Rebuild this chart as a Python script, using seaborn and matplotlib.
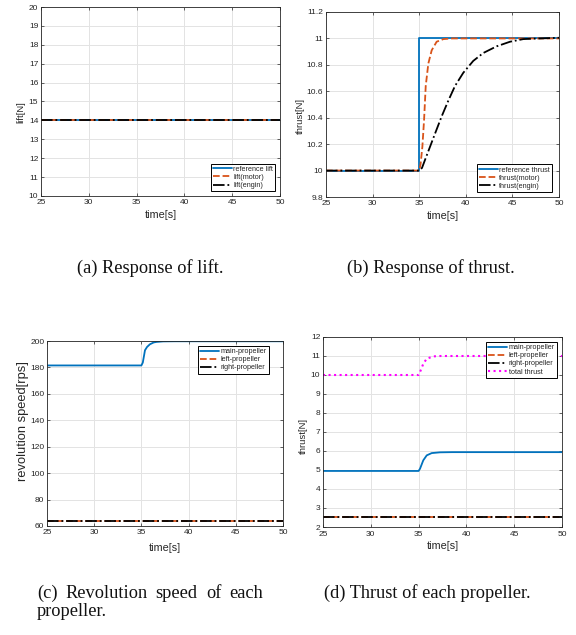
import numpy as np
import pandas as pd
import matplotlib
matplotlib.use("Agg")
import matplotlib.pyplot as plt
import seaborn as sns

# ---------------- data ----------------
# (a) lift
lift_t = [25, 50]
lift_ref = [14, 14]
lift_motor = [14, 14]
lift_engin = [14, 14]

# (b) thrust
thr_ref_t = [25, 35, 35, 50]
thr_ref = [10, 10, 11, 11]
thr_motor_t = [25, 35, 35.15, 35.34, 35.52, 35.7, 35.98, 36.34, 36.87, 37.6, 38.5, 50]
thr_motor = [10, 10, 10.05, 10.18, 10.38, 10.64, 10.81, 10.91, 10.975, 10.995, 11, 11]
thr_engin_t = [25, 35, 35.3, 35.62, 36.16, 36.7, 37.41, 38.13, 38.84, 39.73, 40.8,
               41.88, 43.3, 44.74, 46.17, 48, 50]
thr_engin = [10, 10, 10.02, 10.08, 10.18, 10.28, 10.41, 10.53, 10.64, 10.74, 10.83,
             10.89, 10.94, 10.975, 10.995, 11.0, 11.005]

# (c) revolution speed
rev_t = [25, 35, 35.15, 35.38, 35.6, 35.9, 36.3, 36.6, 37.3, 38.5, 50]
rev_main = [181.5, 181.5, 183.7, 193, 195.5, 197.5, 198.9, 199.3, 199.7, 199.8, 199.8]
rev_side_t = [25, 50]
rev_left = [64, 64]
rev_right = [64, 64]

# (d) thrust of each propeller
pt_t = [25, 35, 35.15, 35.49, 35.85, 36.37, 37.24, 38.5, 50]
pt_main = [4.95, 4.95, 5.07, 5.51, 5.77, 5.89, 5.93, 5.94, 5.94]
pt_side_t = [25, 50]
pt_left = [2.53, 2.53]
pt_right = [2.53, 2.53]
tot_t = [25, 35, 35.15, 35.5, 35.85, 36.55, 37.3, 38.5, 50]
tot_thrust = [10, 10, 10.16, 10.6, 10.86, 10.98, 11.0, 11.0, 11.0]

captions_ab = ["(a) Response of lift.", "(b) Response of thrust."]
caption_c_words = ["(c)", "Revolution", "speed", "of", "each"]
caption_c_line2 = "propeller."
caption_d = "(d) Thrust of each propeller."

# ---------------- style ----------------
sns.set_theme(style="ticks")
plt.rcParams["font.family"] = ["Liberation Sans", "DejaVu Sans"]

BLUE = "#0072BD"
ORANGE = "#D95319"
BLACK = "#000000"
MAGENTA = "#FF00FF"
AXC = "#262626"

W, H = 576, 635
fig = plt.figure(figsize=(W / 100, H / 100), dpi=100)


def px_axes(l, t, r, b):
    return fig.add_axes([l / W, 1 - b / H, (r - l) / W, (b - t) / H])


def style(ax, xlim, ylim, yticks, yticklabels=None):
    ax.set_xlim(*xlim)
    ax.set_ylim(*ylim)
    ax.set_xticks([25, 30, 35, 40, 45, 50])
    ax.set_yticks(yticks)
    if yticklabels is not None:
        ax.set_yticklabels(yticklabels)
    ax.grid(True, color="#e3e3e3", linewidth=0.7)
    ax.set_axisbelow(True)
    for s in ax.spines.values():
        s.set_visible(True)
        s.set_linewidth(0.6)
        s.set_color(AXC)
    ax.tick_params(direction="in", length=2.5, width=0.5, labelsize=6,
                   colors=AXC, pad=2, top=True, right=True)
    ax.set_facecolor("white")


def line(ax, x, y, color, ls, lw, label):
    df = pd.DataFrame({"x": x, "y": y})
    sns.lineplot(data=df, x="x", y="y", ax=ax, color=color, linestyle=ls,
                 linewidth=lw, estimator=None, sort=False, label=label)


def legend(ax, loc, anchor):
    lg = ax.legend(loc=loc, bbox_to_anchor=anchor, borderaxespad=0, fontsize=5.2,
                   frameon=True, fancybox=False, framealpha=1, edgecolor="black",
                   handlelength=2.6, handletextpad=0.2, labelspacing=0.15,
                   borderpad=0.3)
    lg.get_frame().set_linewidth(0.7)


def labels(ax, ylab, ysize, ycoords, xtop):
    ax.set_xlabel("time[s]", fontsize=7.8, color=AXC)
    ax.set_ylabel(ylab, fontsize=ysize, color=AXC)
    ax.xaxis.set_label_coords(0.5, xtop)
    ax.yaxis.set_label_coords(*ycoords)


# (a)
axa = px_axes(41, 7, 280, 196)
line(axa, lift_t, lift_ref, BLUE, "-", 1.3, "reference lift")
line(axa, lift_t, lift_motor, ORANGE, "--", 1.3, "lift(motor)")
line(axa, lift_t, lift_engin, BLACK, "-.", 1.3, "lift(engin)")
style(axa, (25, 50), (10, 20), range(10, 21))
labels(axa, "lift[N]", 6.8, (-0.067, 0.444), -0.074)
legend(axa, "lower right", (0.98, 0.025))

# (b)
axb = px_axes(326, 12, 559, 197)
line(axb, thr_ref_t, thr_ref, BLUE, "-", 1.3, "reference thrust")
line(axb, thr_motor_t, thr_motor, ORANGE, "--", 1.3, "thrust(motor)")
line(axb, thr_engin_t, thr_engin, BLACK, "-.", 1.3, "thrust(engin)")
byt = [9.8, 10, 10.2, 10.4, 10.6, 10.8, 11, 11.2]
style(axb, (25, 50), (9.8, 11.2), byt, ["9.8", "10", "10.2", "10.4", "10.6", "10.8", "11", "11.2"])
labels(axb, "thrust[N]", 6.8, (-0.09, 0.438), -0.076)
legend(axb, "lower right", (0.97, 0.027))

# (c)
axc = px_axes(47, 341, 283, 526)
line(axc, rev_t, rev_main, BLUE, "-", 1.3, "main-propeller")
line(axc, rev_side_t, rev_left, ORANGE, "--", 1.3, "left-propeller")
line(axc, rev_side_t, rev_right, BLACK, "-.", 1.3, "right-propeller")
style(axc, (25, 50), (60, 200), range(60, 201, 20))
labels(axc, "revolution speed[rps]", 9.3, (-0.076, 0.567), -0.09)
legend(axc, "upper right", (0.94, 0.973))

# (d)
axd = px_axes(323, 337, 562, 527)
line(axd, pt_t, pt_main, BLUE, "-", 1.3, "main-propeller")
line(axd, pt_side_t, pt_left, ORANGE, "--", 1.3, "left-propeller")
line(axd, pt_side_t, pt_right, BLACK, "-.", 1.3, "right-propeller")
line(axd, tot_t, tot_thrust, MAGENTA, ":", 1.5, "total thrust")
style(axd, (25, 50), (2, 12), range(2, 13))
labels(axd, "thrust[N]", 6.8, (-0.063, 0.48), -0.074)
legend(axd, "upper right", (0.979, 0.974))
axd.tick_params(axis="x", pad=3)

# captions
serif = ["Liberation Serif", "DejaVu Serif"]
CFS = 13.2
CCOL = "#111111"
fig.text(150 / W, 1 - 273 / H, captions_ab[0], ha="center", va="baseline",
         fontsize=CFS, family=serif, color=CCOL)
fig.text(431 / W, 1 - 273 / H, captions_ab[1], ha="center", va="baseline",
         fontsize=CFS, family=serif, color=CCOL)

# justified first line of caption (c)
c_left, c_right, c_base = 37, 263, 598
renderer = fig.canvas.get_renderer()
txts = [fig.text(0, 1 - c_base / H, wd, ha="left", va="baseline", fontsize=CFS,
                 family=serif, color=CCOL) for wd in caption_c_words]
widths = [t.get_window_extent(renderer).width for t in txts]
gap = (c_right - c_left - sum(widths)) / (len(txts) - 1)
xpos = c_left
for t, wdt in zip(txts, widths):
    t.set_x(xpos / W)
    xpos += wdt + gap
fig.text(c_left / W, 1 - (c_base + 18) / H, caption_c_line2, ha="left", va="baseline",
         fontsize=CFS, family=serif, color=CCOL)
fig.text(324 / W, 1 - c_base / H, caption_d, ha="left", va="baseline",
         fontsize=CFS, family=serif, color=CCOL)

fig.savefig("out.png", dpi=100, facecolor="white")
